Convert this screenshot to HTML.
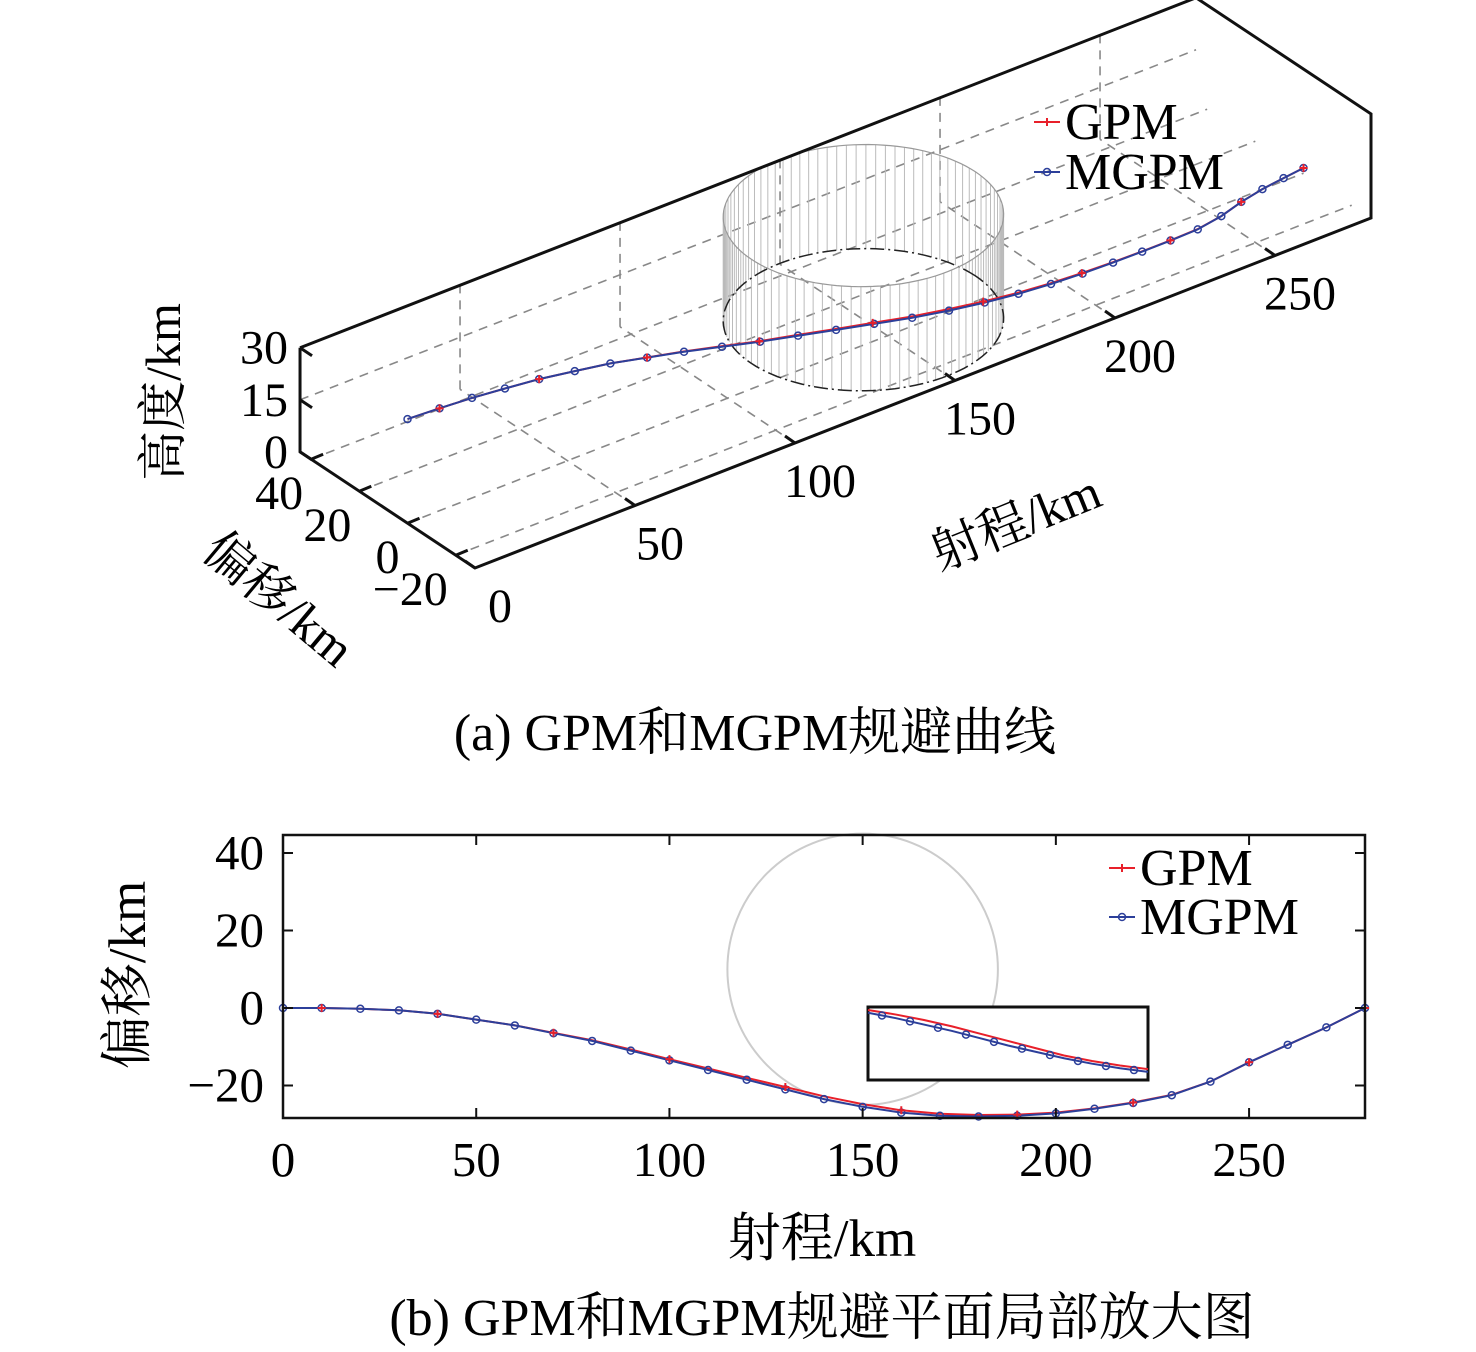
<!DOCTYPE html>
<html><head><meta charset="utf-8">
<style>
html,body{margin:0;padding:0;background:#fff;}
svg{display:block;font-family:"Liberation Serif","Noto Serif CJK SC",serif;}
</style></head>
<body>
<svg id="s" width="1476" height="1352" viewBox="0 0 1476 1352" xmlns="http://www.w3.org/2000/svg">
<g id="g3d"></g>
<g id="g2d"></g>
<text x="755" y="750" font-size="52" text-anchor="middle">(a) GPM和MGPM规避曲线</text>
<text x="822" y="1335" font-size="52" text-anchor="middle">(b) GPM和MGPM规避平面局部放大图</text>
</svg>
<script>
const rangeKm = [0,10,20,30,40,50,60,70,80,90,100,110,120,130,140,150,160,170,180,190,200,210,220,230,240,250,260,270,280];
const offsetMGPM = [0,0,-0.2,-0.6,-1.5,-3,-4.5,-6.5,-8.5,-11,-13.5,-16,-18.5,-21,-23.5,-25.5,-27,-27.8,-28,-27.8,-27.2,-26,-24.5,-22.5,-19,-14,-9.5,-5,0];
const offsetGPM  = [0,0,-0.2,-0.6,-1.5,-3,-4.5,-6.4,-8.3,-10.7,-13.2,-15.6,-18,-20.4,-22.8,-24.8,-26.4,-27.3,-27.6,-27.5,-27,-25.9,-24.4,-22.4,-19,-14,-9.5,-5,0];
const altitudeKm = [30,29.5,29,28.3,27.8,27.2,26.5,25.5,24.5,23.5,22.5,21.8,21,20.3,19.6,19,18.4,17.7,17,16.3,15.6,14.6,13.5,12.2,10.8,9,7,4.5,1.5];
const xTicks2d = [0,50,100,150,200,250];
const yTicks2d = [40,20,0,-20];
const zTicks3d = [0,15,30];
const insetRed  = [0,0.5,1.1,1.8,2.6,3.4,4.2,5.0,5.6,6.1,6.5];
const insetBlue = [0.3,0.9,1.6,2.3,3.1,3.9,4.6,5.3,5.9,6.4,6.8];
const SVGNS="http://www.w3.org/2000/svg";
function mk(parent,tag,attrs){const e=document.createElementNS(SVGNS,tag);for(const k in attrs)e.setAttribute(k,attrs[k]);parent.appendChild(e);return e;}
const RED="#e8202a",BLUE="#2c3f9a";
const YMIN=-28,YMAX=44.6,XMAX=280;

/* ---------- 3D ---------- */
const g3=document.getElementById('g3d');
function P(x,y,z){return [475+x*3.2-(y-YMIN)*2.41, 568-x*1.25-(y-YMIN)*1.6-z*3.47];}
function ln(g,a,b,st){const e=mk(g,'line',Object.assign({x1:a[0],y1:a[1],x2:b[0],y2:b[1]},st));return e;}
const dash={stroke:'#888','stroke-width':1.6,'stroke-dasharray':'9,7'};
[50,100,150,200,250].forEach(x=>{const e=ln(g3,P(x,YMIN,0),P(x,YMAX,0),dash);
 const f=ln(g3,P(x,YMAX,0),P(x,YMAX,30),dash);});
[-20,0,20,40].forEach(y=>{const e=ln(g3,P(0,y,0),P(XMAX,y,0),dash);});
[15,30].forEach(z=>{const e=ln(g3,P(0,YMAX,z),P(XMAX,YMAX,z),dash);});
const cyl=mk(g3,'g',{});
const N=90;
for(let i=0;i<N;i++){const t=i/N*2*Math.PI;const cx=150+35*Math.cos(t),cy=10+35*Math.sin(t);ln(cyl,P(cx,cy,0),P(cx,cy,30),{stroke:'#bbb','stroke-width':1});}
function ring(z,st){let d='';for(let i=0;i<=120;i++){const t=i/120*2*Math.PI;const p=P(150+35*Math.cos(t),10+35*Math.sin(t),z);d+=(i?'L':'M')+p[0].toFixed(1)+','+p[1].toFixed(1);}mk(cyl,'path',Object.assign({d:d,fill:'none'},st));}
ring(0,{stroke:'#222','stroke-width':1.5,'stroke-dasharray':'14,4,2,4'});
ring(30,{stroke:'#999','stroke-width':1.2});
const box=mk(g3,'path',{d:'M'+[P(0,YMAX,30),P(XMAX,YMAX,30),P(XMAX,YMIN,30),P(XMAX,YMIN,0),P(0,YMIN,0),P(0,YMAX,0),P(0,YMAX,30)].map(p=>p.join(',')).join('L'),fill:'none',stroke:'#111','stroke-width':3});

[0,50,100,150,200,250].forEach(x=>{const a=P(x,YMIN,0);ln(g3,a,[a[0]-10,a[1]-7],{stroke:'#111','stroke-width':3});
 const t=mk(g3,'text',{x:a[0]+25,y:a[1]+54,'font-size':48,'text-anchor':'middle'});t.textContent=x;});
[40,20,0,-20].forEach(y=>{const a=P(0,y,0);ln(g3,a,[a[0]+12,a[1]-5],{stroke:'#111','stroke-width':3});
 const t=mk(g3,'text',{x:a[0]-8,y:a[1]+50,'font-size':48,'text-anchor':'end'});t.textContent=(y<0?'\u2212'+(-y):y);});
zTicks3d.forEach(z=>{const a=P(0,YMAX,z);ln(g3,a,[a[0]+12,a[1]+8],{stroke:'#111','stroke-width':3});
 const t=mk(g3,'text',{x:a[0]-12,y:a[1]+16,'font-size':48,'text-anchor':'end'});t.textContent=z;});
let t;
t=mk(g3,'text',{x:0,y:0,'font-size':50,'text-anchor':'middle',transform:'translate(180,392) rotate(-90)'});t.textContent='高度/km';
t=mk(g3,'text',{x:0,y:0,'font-size':50,'text-anchor':'middle',transform:'translate(268,612) rotate(40)'});t.textContent='偏移/km';
t=mk(g3,'text',{x:0,y:0,'font-size':50,'text-anchor':'middle',transform:'translate(1022,538) rotate(-22)'});t.textContent='射程/km';
function path3(arr,col,name){const d=rangeKm.map((x,i)=>{const p=P(x,arr[i],altitudeKm[i]);return (i?'L':'M')+p[0].toFixed(1)+','+p[1].toFixed(1);}).join('');
 const e=mk(g3,'path',{d:d,fill:'none',stroke:col,'stroke-width':2});}
path3(offsetGPM,RED,'gpm-line-3d');path3(offsetMGPM,BLUE,'mgpm-line-3d');
rangeKm.forEach((x,i)=>{const p=P(x,offsetMGPM[i],altitudeKm[i]);const c=mk(g3,'circle',{cx:p[0],cy:p[1],r:3.5,fill:'none',stroke:BLUE,'stroke-width':1.5});
 if(i%3==1){const q=P(x,offsetGPM[i],altitudeKm[i]);const m=mk(g3,'path',{d:`M${q[0]-4},${q[1]}h8M${q[0]},${q[1]-4}v8`,stroke:RED,'stroke-width':2});}});
function legend(g,x,y,col,label,mark,name){const lg=mk(g,'g',{});
 mk(lg,'line',{x1:x,y1:y,x2:x+26,y2:y,stroke:col,'stroke-width':2});
 if(mark==='o')mk(lg,'circle',{cx:x+13,cy:y,r:3.5,fill:'none',stroke:col,'stroke-width':1.5});else mk(lg,'path',{d:`M${x+9},${y}h8M${x+13},${y-4}v8`,stroke:col,'stroke-width':2});
 const tt=mk(lg,'text',{x:x+31,y:y+17,'font-size':52});tt.textContent=label;}
legend(g3,1034,122,RED,'GPM','+','legend-gpm-3d');legend(g3,1034,172,BLUE,'MGPM','o','legend-mgpm-3d');

/* ---------- 2D ---------- */
const g2=document.getElementById('g2d');
const L=283,R=1365,T=835,B=1118;
const sx=x=>L+x/XMAX*(R-L), sy=y=>1008-y*3.875;
const cc=mk(g2,'ellipse',{cx:sx(150),cy:sy(10),rx:35*(R-L)/XMAX,ry:35*3.875,fill:'none',stroke:'#ccc','stroke-width':2});
function path2(arr,col,name){const d=rangeKm.map((x,i)=>(i?'L':'M')+sx(x).toFixed(1)+','+sy(arr[i]).toFixed(1)).join('');
 const e=mk(g2,'path',{d:d,fill:'none',stroke:col,'stroke-width':2});}
path2(offsetGPM,RED,'gpm-line');path2(offsetMGPM,BLUE,'mgpm-line');
rangeKm.forEach((x,i)=>{const c=mk(g2,'circle',{cx:sx(x),cy:sy(offsetMGPM[i]),r:3.5,fill:'none',stroke:BLUE,'stroke-width':1.5});
 if(i%3==1){const q=[sx(x),sy(offsetGPM[i])];const m=mk(g2,'path',{d:`M${q[0]-4},${q[1]}h8M${q[0]},${q[1]-4}v8`,stroke:RED,'stroke-width':2});}});
const ins=mk(g2,'g',{});
mk(ins,'rect',{x:868,y:1007,width:280,height:73,fill:'#fff',stroke:'#111','stroke-width':3});
const ix=i=>868+i*28, iy=v=>1010+v*9.1;
mk(ins,'path',{d:insetRed.map((v,i)=>(i?'L':'M')+ix(i)+','+iy(v)).join(''),fill:'none',stroke:RED,'stroke-width':2});
mk(ins,'path',{d:insetBlue.map((v,i)=>(i?'L':'M')+ix(i)+','+iy(v)).join(''),fill:'none',stroke:BLUE,'stroke-width':2});
insetBlue.forEach((v,i)=>{if(i<insetBlue.length-1)mk(ins,'circle',{cx:ix(i)+14,cy:(iy(v)+iy(insetBlue[i+1]))/2,r:3.5,fill:'none',stroke:BLUE,'stroke-width':1.5});});
const fr=mk(g2,'rect',{x:L,y:T,width:R-L,height:B-T,fill:'none',stroke:'#111','stroke-width':2.5});
xTicks2d.forEach(x=>{mk(g2,'line',{x1:sx(x),y1:B,x2:sx(x),y2:B-10,stroke:'#111','stroke-width':2});mk(g2,'line',{x1:sx(x),y1:T,x2:sx(x),y2:T+10,stroke:'#111','stroke-width':2});
 const tt=mk(g2,'text',{x:sx(x),y:1176,'font-size':49,'text-anchor':'middle'});tt.textContent=x;});
yTicks2d.forEach(y=>{mk(g2,'line',{x1:L,y1:sy(y),x2:L+10,y2:sy(y),stroke:'#111','stroke-width':2});mk(g2,'line',{x1:R,y1:sy(y),x2:R-10,y2:sy(y),stroke:'#111','stroke-width':2});
 const tt=mk(g2,'text',{x:264,y:sy(y)+16,'font-size':49,'text-anchor':'end'});tt.textContent=(y<0?'\u2212'+(-y):y);});
t=mk(g2,'text',{x:822,y:1256,'font-size':53,'text-anchor':'middle'});t.textContent='射程/km';
t=mk(g2,'text',{x:0,y:0,'font-size':53,'text-anchor':'middle',transform:'translate(145,975) rotate(-90)'});t.textContent='偏移/km';
legend(g2,1109,868,RED,'GPM','+','legend-gpm');legend(g2,1109,917,BLUE,'MGPM','o','legend-mgpm');
</script>
</body></html>
